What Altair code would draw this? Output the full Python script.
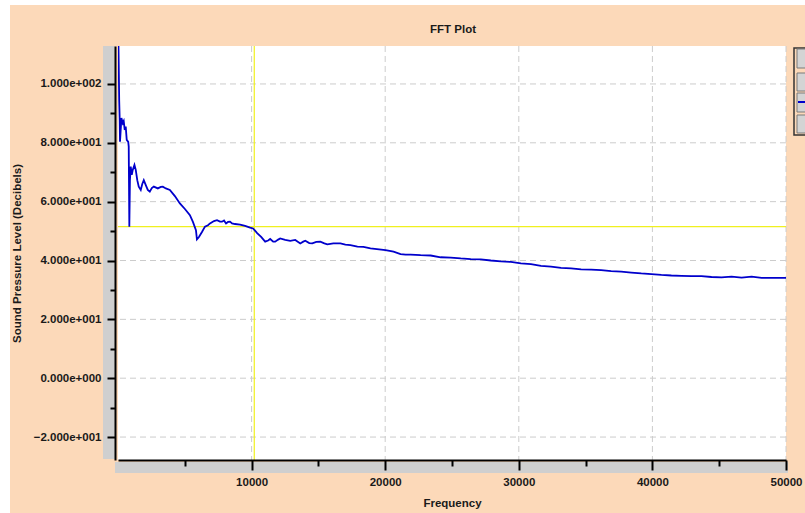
import altair as alt
import pandas as pd

# FFT spectrum of the recorded signal
freq_hz = [
    15, 90, 128, 150, 255, 353, 428, 503, 578, 653,
    766, 803, 848, 893, 953, 1029, 1104, 1231, 1329, 1442,
    1554, 1704, 1817, 1930, 2080, 2230, 2380, 2530, 2680, 2981,
    3206, 3356, 3581, 3882, 4257, 4632, 5008, 5383, 5608, 5834,
    5909, 6059, 6284, 6509, 6735, 6885, 7185, 7410, 7636, 7786,
    7936, 8086, 8236, 8386, 8536, 8762, 9137, 9513, 9888, 10113,
    10414, 10714, 11015, 11239, 11390, 11615, 11765, 11990, 12140, 12516,
    12891, 13267, 13642, 13867, 14017, 14318, 14543, 14843, 15144, 15444,
    15669, 16120, 16645, 17021, 17396, 17922, 18372, 18898, 20024, 20624,
    21150, 21525, 21901, 22651, 23402, 24153, 24904, 25654, 26405, 27156,
    27907, 28658, 29408, 30159, 30910, 31661, 32411, 33162, 33913, 34664,
    35415, 36165, 36916, 37667, 38418, 39168, 39919, 40670, 41421, 42172,
    42922, 43673, 44424, 45175, 45925, 46676, 47427, 48178, 48929, 50000,
]
spl_db = [
    120, 94.2, 87.8, 80.4, 88.4, 86.7, 87.4, 84.4, 85.5, 81.0,
    80.3, 78.7, 51.5, 67.3, 71.9, 69.1, 70.8, 72.5, 70.8, 67.3,
    65.1, 64.0, 66.0, 67.3, 65.6, 64.0, 63.4, 64.6, 65.1, 64.5,
    65.0, 65.1, 64.5, 64.0, 61.9, 59.4, 57.5, 55.4, 53.1, 50.3,
    47.2, 48.0, 49.7, 51.5, 52.0, 52.6, 53.4, 53.7, 53.2, 53.2,
    53.6, 52.6, 53.1, 53.2, 52.6, 52.4, 52.2, 51.8, 51.2, 50.9,
    49.3, 48.0, 46.4, 46.8, 47.3, 46.4, 46.4, 47.1, 47.5, 47.0,
    46.7, 47.0, 45.8, 46.4, 46.7, 45.9, 45.8, 46.3, 46.4, 45.8,
    45.5, 45.8, 45.8, 45.4, 45.2, 44.7, 44.6, 44.1, 43.5, 43.0,
    42.2, 42.0, 42.0, 41.8, 41.7, 41.1, 41.0, 40.7, 40.5, 40.4,
    40.0, 39.7, 39.5, 39.0, 38.8, 38.2, 37.9, 37.5, 37.3, 37.0,
    36.9, 36.7, 36.4, 36.2, 35.9, 35.6, 35.4, 35.1, 34.9, 34.8,
    34.7, 34.7, 34.4, 34.3, 34.5, 34.2, 34.5, 34.1, 34.1, 34.1,
]

# axis tick positions (major ones carry labels and grid lines)
x_major = [10000, 20000, 30000, 40000, 50000]
x_ticks = [5000, 10000, 15000, 20000, 25000, 30000, 35000, 40000, 45000, 50000]
y_major = [-20, 0, 20, 40, 60, 80, 100]
y_ticks = [-20, -10, 0, 10, 20, 30, 40, 50, 60, 70, 80, 90, 100]

# cursor cross-hair
cursor_freq = [10200]
cursor_level = [51.5]

plot_title = ["FFT Plot"]

W, H = 668, 414
PEACH = "#FCD9B9"
STRIP = "#CFCFCF"
FONT = "Liberation Sans"
INK = "#1a1a1a"

spectrum = pd.DataFrame({"freq": freq_hz, "spl": spl_db})
xgrid = pd.DataFrame({"freq": x_major})
ygrid = pd.DataFrame({"spl": y_major})
xcur = pd.DataFrame({"freq": cursor_freq})
ycur = pd.DataFrame({"spl": cursor_level})
titles = pd.DataFrame({"t": plot_title})
one = pd.DataFrame({"k": [0]})

x_scale = alt.Scale(domain=[0, 50000], nice=False, zero=False)
y_scale = alt.Scale(domain=[-27.8, 112.9], nice=False, zero=False)

x_axis = alt.Axis(
    values=x_ticks,
    labelExpr="datum.value % 10000 === 0 ? format(datum.value, 'd') : ''",
    tickSize={"condition": {"test": "datum.value % 10000 === 0", "value": 10}, "value": 6},
    tickWidth=2, tickColor="black",
    domainWidth=2, domainColor="black",
    labelFont=FONT, labelFontSize=11.5, labelFontWeight="bold", labelColor=INK,
    labelPadding=6, labelFlush=False, labelOverlap=False,
    titleFont=FONT, titleFontSize=11.5, titleFontWeight="bold", titleColor=INK,
    titlePadding=10, grid=False, zindex=1,
)

sci = (
    "datum.value % 20 !== 0 ? '' : (datum.value === 0 ? '0.000e+000' : "
    "format(datum.value / pow(10, floor(log(abs(datum.value)) / LN10 + 1e-9)), '.3f') "
    "+ 'e+00' + floor(log(abs(datum.value)) / LN10 + 1e-9))"
)
y_axis = alt.Axis(
    values=y_ticks,
    labelExpr=sci,
    tickSize={"condition": {"test": "datum.value % 20 === 0", "value": 8}, "value": 5},
    tickWidth=2, tickColor="black",
    domainWidth=2, domainColor="black", offset=3,
    labelFont=FONT, labelFontSize=11.5, labelFontWeight="bold", labelColor=INK,
    labelPadding=6, labelOverlap=False,
    titleFont=FONT, titleFontSize=11.5, titleFontWeight="bold", titleColor=INK,
    titlePadding=11, grid=False, zindex=1,
)

X = alt.X("freq:Q", scale=x_scale, axis=x_axis, title="Frequency")
Y = alt.Y("spl:Q", scale=y_scale, axis=y_axis, title="Sound Pressure Level (Decibels)")


def box(x, x2, y, y2, fill, stroke=None, sw=0):
    kw = dict(fill=fill)
    if stroke:
        kw.update(stroke=stroke, strokeWidth=sw)
    return alt.Chart(one).mark_rect(**kw).encode(
        x=alt.value(x), x2=alt.value(x2), y=alt.value(y), y2=alt.value(y2)
    )


# window panel, plot area and the grey axis strips
panel = box(-108, W + 60, -41, H + 80, PEACH)
plot_bg = box(0, W, 0, H, "white")
left_strip = box(-15, -3, 0, H - 1, STRIP)
bottom_strip = box(-3, W + 2, H + 2, H + 13, STRIP)

grid_style = dict(color="#CCCCCC", strokeWidth=1, strokeDash=[6, 4])
vgrid = alt.Chart(xgrid).mark_rule(**grid_style).encode(x=X)
hgrid = alt.Chart(ygrid).mark_rule(**grid_style).encode(y=Y)

cursor_style = dict(color="#F0F020", strokeWidth=1.2)
vcursor = alt.Chart(xcur).mark_rule(**cursor_style).encode(x=X)
hcursor = alt.Chart(ycur).mark_rule(**cursor_style).encode(y=Y)

curve = alt.Chart(spectrum).mark_line(color="#0000CC", strokeWidth=1.8, clip=True).encode(
    x=X, y=Y
)

# chart heading, centred over the plot area
heading = alt.Chart(titles).mark_text(
    font=FONT, fontSize=11.5, fontWeight="bold", color=INK,
    align="center", baseline="middle",
).encode(text="t:N", x=alt.value(W / 2 + 1), y=alt.value(-16))

# series selector buttons at the right edge
legend_frame = box(676, W + 60, 2, 89, "none", "#333333", 1.5)
buttons = [
    box(679, W + 60, 3, 22, "#D4D4D4", "#7A7A7A", 1),
    box(679, W + 60, 27, 45, "#D4D4D4", "#7A7A7A", 1),
    box(679, W + 60, 47, 66, "#D4D4D4", "#7A7A7A", 1),
    box(679, W + 60, 69, 87, "#D4D4D4", "#7A7A7A", 1),
]
swatch = alt.Chart(one).mark_rule(color="#0000CC", strokeWidth=2).encode(
    x=alt.value(680), x2=alt.value(W + 40), y=alt.value(56)
)

chart = alt.layer(
    panel, plot_bg, left_strip, bottom_strip, vgrid, hgrid, vcursor, hcursor, curve,
    heading, legend_frame, *buttons, swatch,
).properties(
    width=W,
    height=H,
    autosize=alt.AutoSizeParams(type="none"),
    padding={"left": 118, "top": 46, "right": 19, "bottom": 53},
).configure(
    background="white",
).configure_view(
    stroke=None,
)

chart.save("out.html", embed_options={"renderer": "svg", "actions": False})
